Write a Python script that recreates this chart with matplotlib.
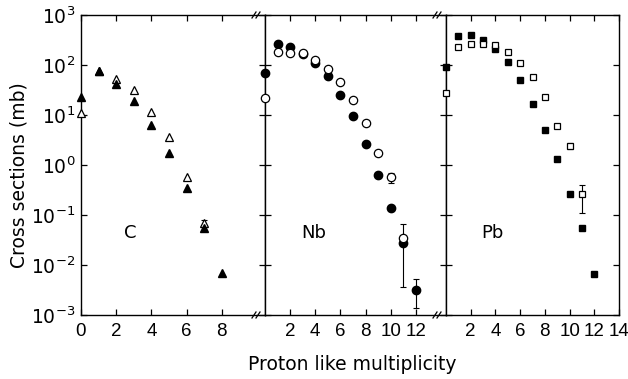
import matplotlib
matplotlib.use('Agg')
import matplotlib.pyplot as plt
from matplotlib.transforms import offset_copy

# ---------------- data ----------------
c_mult_filled = [0, 1, 2, 3, 4, 5, 6, 7, 8]
c_filled = [23, 76, 42, 19, 6.4, 1.7, 0.34, 0.056, 0.0068]
c_mult_open = [0, 1, 2, 3, 4, 5, 6, 7]
c_open = [11, 76, 53, 31, 11.5, 3.6, 0.58, 0.068]

nb_mult_filled = [0, 1, 2, 3, 4, 5, 6, 7, 8, 9, 10, 11, 12]
nb_filled = [68, 258, 232, 165, 111, 61, 25.5, 9.4, 2.6, 0.63, 0.136, 0.028, 0.0032]
nb_mult_open = [0, 1, 2, 3, 4, 5, 6, 7, 8, 9, 10, 11]
nb_open = [22, 179, 177, 172, 126, 82, 45, 19.6, 7.0, 1.7, 0.58, 0.034]

pb_mult_filled = [0, 1, 2, 3, 4, 5, 6, 7, 8, 9, 10, 11, 12]
pb_filled = [93, 380, 400, 316, 206, 113, 49, 16.6, 4.9, 1.34, 0.26, 0.056, 0.0065]
pb_mult_open = [0, 1, 2, 3, 4, 5, 6, 7, 8, 9, 10, 11]
pb_open = [28, 232, 268, 263, 247, 184, 111, 58, 23, 6.1, 2.4, 0.26]

# error bars: (multiplicity, value, low, high)
c_open_err = [(7, 0.068, 0.058, 0.078)]
nb_open_err = [(10, 0.58, 0.43, 0.69), (11, 0.034, 0.0037, 0.066)]
nb_filled_err = [(12, 0.0032, 0.00135, 0.0052)]
pb_open_err = [(10, 2.4, 2.1, 2.8), (11, 0.26, 0.11, 0.40)]

panel_names = ["C", "Nb", "Pb"]
x_tick_sets = [[0, 2, 4, 6, 8], [2, 4, 6, 8, 10, 12], [2, 4, 6, 8, 10, 12, 14]]
x_limits = [(0, 10.45), (0, 14.4), (0, 13.95)]
y_ticks = [1e-3, 1e-2, 1e-1, 1e0, 1e1, 1e2, 1e3]
y_tick_labels = [r"$10^{-3}$", r"$10^{-2}$", r"$10^{-1}$", r"$10^{0}$",
                 r"$10^{1}$", r"$10^{2}$", r"$10^{3}$"]

NARROW = ['Liberation Sans Narrow', 'Liberation Sans', 'DejaVu Sans']
plt.rcParams['font.family'] = ['DejaVu Sans']
plt.rcParams['mathtext.fontset'] = 'custom'
plt.rcParams['mathtext.rm'] = 'Liberation Sans Narrow'
plt.rcParams['mathtext.it'] = 'Liberation Sans Narrow'
plt.rcParams['mathtext.bf'] = 'Liberation Sans Narrow'
plt.rcParams['mathtext.sf'] = 'Liberation Sans Narrow'

W, H = 628, 379
fig = plt.figure(figsize=(W / 100, H / 100), dpi=100)

edges = [(81, 265), (265, 446), (446, 619)]
top_px, bot_px = 15, 315

axes = []
for i, (l, r) in enumerate(edges):
    ax = fig.add_axes([l / W, (H - bot_px) / H, (r - l) / W, (bot_px - top_px) / H])
    ax.set_yscale('log')
    ax.set_ylim(1e-3, 1e3)
    ax.set_xlim(*x_limits[i])
    ax.set_xticks(x_tick_sets[i])
    ax.set_xticklabels([str(t) for t in x_tick_sets[i]], family=NARROW, fontsize=13.5)
    ax.set_yticks(y_ticks)
    ax.yaxis.set_minor_locator(matplotlib.ticker.NullLocator())
    ax.xaxis.set_minor_locator(matplotlib.ticker.NullLocator())
    if i == 0:
        ax.set_yticklabels(y_tick_labels, fontsize=13.5)
    else:
        ax.set_yticklabels([])
    ax.tick_params(direction='in', length=4, width=0.9, top=True, right=True,
                   pad=6, colors='black')
    ax.tick_params(axis='y', pad=4)
    for s in ax.spines.values():
        s.set_linewidth(1.0)
    ax.text(0.27, 0.275, panel_names[i], transform=ax.transAxes, fontsize=13,
            ha='center', va='center')
    axes.append(ax)

ms_tri = 6.3
ms_circ = 6
ms_sq = 5

def err(ax, lst):
    for m, v, lo, hi in lst:
        ax.errorbar([m], [v], yerr=[[v - lo], [hi - v]], fmt='none', ecolor='black',
                    elinewidth=0.8, capsize=2.5, capthick=0.8, zorder=2)

ax = axes[0]
err(ax, c_open_err)
ax.plot(c_mult_open, c_open, linestyle='none', marker='^', ms=ms_tri, mfc='white',
        mec='black', mew=0.9, clip_on=False, zorder=3)
ax.plot(c_mult_filled, c_filled, linestyle='none', marker='^', ms=ms_tri, mfc='black',
        mec='black', clip_on=False, zorder=4)

ax = axes[1]
err(ax, nb_open_err)
err(ax, nb_filled_err)
ax.plot(nb_mult_filled, nb_filled, linestyle='none', marker='o', ms=ms_circ, mfc='black',
        mec='black', clip_on=False, zorder=3)
ax.plot(nb_mult_open, nb_open, linestyle='none', marker='o', ms=ms_circ, mfc='white',
        mec='black', mew=0.9, clip_on=False, zorder=4)

ax = axes[2]
err(ax, pb_open_err)
ax.plot(pb_mult_filled, pb_filled, linestyle='none', marker='s', ms=ms_sq, mfc='black',
        mec='black', clip_on=False, zorder=3)
ax.plot(pb_mult_open, pb_open, linestyle='none', marker='s', ms=ms_sq, mfc='white',
        mec='black', mew=0.9, clip_on=False, zorder=4)

# axis break marks "//" just left of the panel joins
fw, fh = fig.get_figwidth() * fig.dpi, fig.get_figheight() * fig.dpi
for ax in axes[1:]:
    for yf in (0.0, 1.0):
        for dx in (-11, -7):
            t1 = offset_copy(ax.transAxes, fig=fig, x=dx - 2, y=-3, units='dots')
            t2 = offset_copy(ax.transAxes, fig=fig, x=dx + 2, y=3, units='dots')
            p1 = t1.transform((0, yf))
            p2 = t2.transform((0, yf))
            fig.lines.append(matplotlib.lines.Line2D(
                [p1[0] / fw, p2[0] / fw], [p1[1] / fh, p2[1] / fh],
                transform=fig.transFigure, color='black', lw=0.9))

fig.text(19 / W, 1 - 175 / H, "Cross sections (mb)", rotation=90, ha='center',
         va='center', fontsize=13.5)
fig.text(352 / W, (H - 370) / H, "Proton like multiplicity", ha='center',
         va='baseline', fontsize=13.5)

fig.savefig("out.png", dpi=100)
